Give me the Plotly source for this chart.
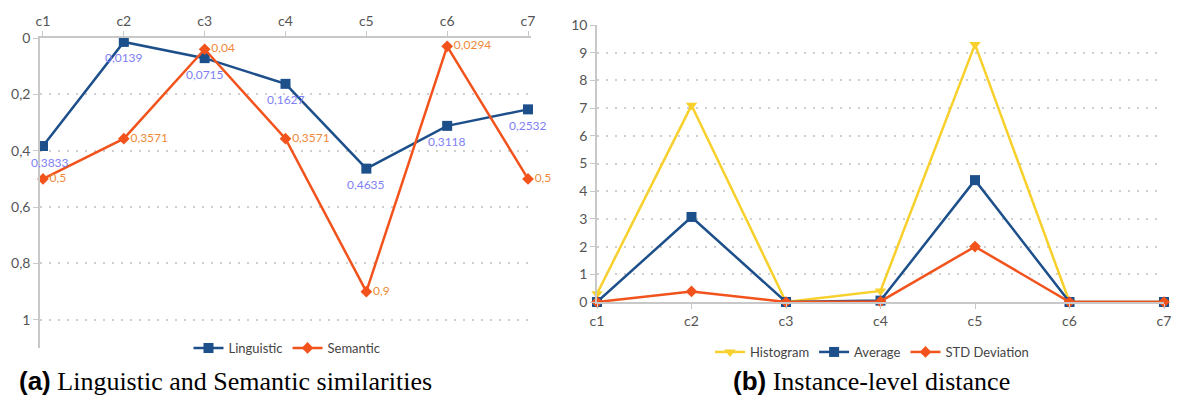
import plotly.graph_objects as go

categories = ["c1", "c2", "c3", "c4", "c5", "c6", "c7"]
linguistic = [0.3833, 0.0139, 0.0715, 0.1627, 0.4635, 0.3118, 0.2532]
semantic = [0.5, 0.3571, 0.04, 0.3571, 0.9, 0.0294, 0.5]
histogram = [0.3, 7.1, 0.0, 0.4, 9.3, 0.0, 0.0]
average = [0.0, 3.07, 0.0, 0.05, 4.4, 0.0, 0.0]
std_dev = [0.0, 0.38, 0.0, 0.02, 2.0, 0.0, 0.0]
left_ticks = [0, 0.2, 0.4, 0.6, 0.8, 1]
left_ticktext = ["0", "0,2", "0,4", "0,6", "0,8", "1"]

W, H = 1177, 403
xs = list(range(len(categories)))

def fmt(v):
    return ("%g" % v).replace(".", ",")

BLUE = "#1d4f8b"
ORANGE = "#f2531c"
YELLOW = "#f7d02c"
BLUE_LBL = "#7f7ff5"
ORANGE_LBL = "#f0893a"
GRID = "#cfcfcf"
AXIS = "#c8c8c8"
FONT = "Lato, Open Sans, Liberation Sans"
TICKF = dict(family=FONT, size=14, color="#555555")

fig = go.Figure()

fig.add_trace(go.Scatter(
    x=xs, y=linguistic, name="Linguistic", mode="lines+markers",
    line=dict(color=BLUE, width=2.5), marker=dict(symbol="square", size=10, color=BLUE),
    xaxis="x", yaxis="y", legend="legend", cliponaxis=False))
fig.add_trace(go.Scatter(
    x=xs, y=semantic, name="Semantic", mode="lines+markers+text",
    text=[fmt(v) for v in semantic], textposition="middle right",
    textfont=dict(family=FONT, size=12, color=ORANGE_LBL),
    line=dict(color=ORANGE, width=2.5), marker=dict(symbol="diamond", size=9, color=ORANGE),
    xaxis="x", yaxis="y", legend="legend", cliponaxis=False))

fig.add_trace(go.Scatter(
    x=xs, y=histogram, name="Histogram", mode="lines+markers",
    line=dict(color=YELLOW, width=2.5), marker=dict(symbol="triangle-down", size=10, color=YELLOW),
    xaxis="x2", yaxis="y2", legend="legend2", cliponaxis=False))
fig.add_trace(go.Scatter(
    x=xs, y=average, name="Average", mode="lines+markers",
    line=dict(color=BLUE, width=2.5), marker=dict(symbol="square", size=10, color=BLUE),
    xaxis="x2", yaxis="y2", legend="legend2", cliponaxis=False))
fig.add_trace(go.Scatter(
    x=xs, y=std_dev, name="STD Deviation", mode="lines+markers",
    line=dict(color=ORANGE, width=2.5), marker=dict(symbol="diamond", size=9, color=ORANGE),
    xaxis="x2", yaxis="y2", legend="legend2", cliponaxis=False))

def px_x(p):
    return p / W

def px_y(p):
    return 1 - p / H

# data labels for the Linguistic series, placed below each point
label_annotations = []
for i, v in enumerate(linguistic):
    label_annotations.append(dict(
        x=xs[i], y=v, xref="x", yref="y", text=fmt(v), showarrow=False,
        xshift=7 if i == 0 else 0, yshift=-16, xanchor="center", yanchor="middle",
        font=dict(family=FONT, size=12, color=BLUE_LBL)))

common_axis = dict(zeroline=False, showline=True, linecolor=AXIS, linewidth=1.5,
                   ticks="outside", ticklen=5, tickcolor=AXIS, tickfont=TICKF,
                   automargin=False)
grid = dict(showgrid=True, gridcolor=GRID, griddash="2px,7px", gridwidth=1.5)

fig.update_layout(
    template="none",
    width=W, height=H, margin=dict(l=0, r=0, t=0, b=0),
    paper_bgcolor="white", plot_bgcolor="white",
    showlegend=True,
    xaxis=dict(domain=[px_x(40), px_x(531)], range=[-0.037, 6.037], side="top",
               tickvals=xs, ticktext=categories, showgrid=False, anchor="y", **common_axis),
    yaxis=dict(domain=[px_y(348), px_y(38)], range=[1.1, 0], tickvals=left_ticks,
               ticktext=left_ticktext, anchor="x", **grid, **common_axis),
    xaxis2=dict(domain=[px_x(597), px_x(1164)], range=[0, 6], tickvals=xs, ticktext=categories,
                showgrid=False, anchor="y2", **common_axis),
    yaxis2=dict(domain=[px_y(302), px_y(25)], range=[0, 10], tickvals=list(range(11)),
                anchor="x2", **grid, **common_axis),
    legend=dict(orientation="h", x=px_x(287), xanchor="center", y=px_y(348), yanchor="middle",
                font=dict(family=FONT, size=13, color="#444444"),
                bgcolor="rgba(0,0,0,0)", itemwidth=30),
    legend2=dict(orientation="h", x=px_x(872), xanchor="center", y=px_y(352), yanchor="middle",
                 font=dict(family=FONT, size=13, color="#444444"),
                 bgcolor="rgba(0,0,0,0)", itemwidth=30),
    annotations=label_annotations + [
        dict(x=px_x(225), y=px_y(381), xref="paper", yref="paper", showarrow=False,
             text="<span style='font-family:Liberation Sans'><b>(a)</b></span> Linguistic and Semantic similarities",
             font=dict(family="Liberation Serif", size=26, color="black"), xanchor="center", yanchor="middle"),
        dict(x=px_x(872), y=px_y(381), xref="paper", yref="paper", showarrow=False,
             text="<span style='font-family:Liberation Sans'><b>(b)</b></span> Instance-level distance",
             font=dict(family="Liberation Serif", size=26, color="black"), xanchor="center", yanchor="middle"),
    ],
)

fig.write_html("out.html", config={"displayModeBar": False},
               post_script="document.body.style.margin='0';document.body.style.padding='0';document.body.style.overflow='hidden';")
